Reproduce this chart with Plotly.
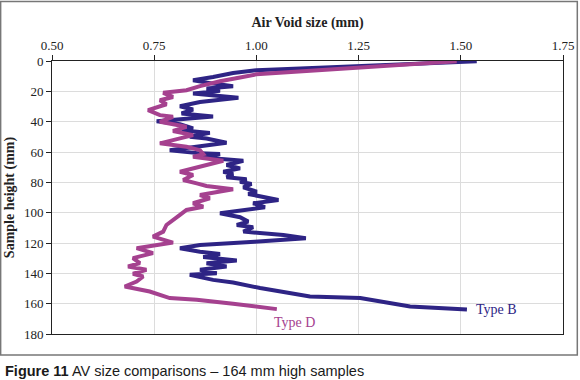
import plotly.graph_objects as go

# Type B series (air void size mm, sample height mm)
typeB_size = [1.539, 1.499, 1.343, 1.139, 1.107, 1.000, 0.943, 0.894, 0.845, 0.894, 0.943, 0.878,
              0.911, 0.845, 0.956, 0.862, 0.813, 0.845, 0.817, 0.894, 0.829, 0.756, 0.813, 0.845,
              0.817, 0.886, 0.837, 0.878, 0.927, 0.862, 0.788, 0.862, 0.911, 0.870, 0.943, 0.968,
              0.927, 0.960, 0.919, 0.943, 0.927, 0.976, 0.960, 0.988, 0.968, 1.001, 0.980, 1.017,
              1.054, 0.992, 1.021, 0.911, 0.960, 0.980, 0.952, 0.992, 0.968, 1.066, 1.121, 0.996,
              0.862, 0.813, 0.862, 0.911, 0.870, 0.952, 0.878, 0.927, 0.862, 0.903, 0.837, 0.894,
              0.943, 1.009, 1.058, 1.099, 1.131, 1.254, 1.278, 1.376, 1.515]
typeB_height = [0.2, 0.7, 2.6, 4.6, 5.0, 6.1, 7.9, 10.5, 12.7, 14.9, 16.6, 18.2,
                19.7, 21.4, 24.3, 27.0, 29.8, 32.0, 34.6, 36.6, 37.9, 39.7, 41.6, 44.5,
                45.6, 47.4, 50.0, 51.1, 53.9, 56.1, 58.8, 60.9, 61.4, 63.6, 65.3, 65.8,
                68.6, 70.8, 73.0, 74.5, 76.7, 78.0, 79.6, 81.1, 83.3, 86.2, 87.7, 89.9,
                91.6, 93.8, 96.4, 100.4, 103.0, 105.9, 108.1, 109.6, 112.5, 114.7, 116.8, 119.1,
                121.3, 123.4, 125.7, 127.2, 129.3, 131.6, 133.3, 135.5, 137.7, 139.9, 141.0, 144.3,
                146.1, 149.7, 152.0, 153.7, 155.3, 156.3, 157.4, 161.8, 163.8]

# Type D series
typeD_size = [1.490, 1.343, 1.139, 1.058, 1.000, 0.960, 0.911, 0.862, 0.829, 0.772, 0.796, 0.764,
              0.780, 0.735, 0.764, 0.796, 0.764, 0.829, 0.796, 0.845, 0.805, 0.764, 0.829, 0.862,
              0.870, 0.845, 0.919, 0.878, 0.845, 0.813, 0.845, 0.821, 0.854, 0.878, 0.943, 0.894,
              0.862, 0.886, 0.845, 0.870, 0.829, 0.813, 0.796, 0.780, 0.772, 0.747, 0.796, 0.707,
              0.747, 0.698, 0.715, 0.686, 0.731, 0.698, 0.723, 0.707, 0.678, 0.739, 0.788, 0.854,
              0.943, 1.050]
typeD_height = [0.2, 2.8, 6.1, 7.9, 8.8, 10.9, 13.4, 16.6, 19.3, 21.0, 23.7, 25.9,
                28.5, 32.4, 35.7, 36.8, 40.1, 43.4, 46.1, 48.9, 51.7, 54.3, 56.6, 58.8,
                61.4, 63.2, 65.8, 68.6, 70.8, 73.0, 75.2, 78.5, 80.7, 82.4, 84.6, 86.8,
                88.4, 90.5, 93.8, 96.1, 98.2, 101.5, 104.8, 108.1, 112.5, 115.8, 119.7, 123.4,
                126.7, 130.0, 133.3, 135.5, 137.7, 140.3, 142.1, 145.4, 148.7, 152.0, 156.3, 157.4,
                160.1, 163.6]

x_ticks = [0.50, 0.75, 1.00, 1.25, 1.50, 1.75]
y_ticks = [0, 20, 40, 60, 80, 100, 120, 140, 160, 180]

BLUE = "#2e2485"
MAGENTA = "#a5418f"
SERIF = "Liberation Serif, DejaVu Serif, serif"

fig = go.Figure()
fig.add_trace(go.Scatter(x=typeB_size, y=typeB_height, mode="lines",
                         line=dict(color=BLUE, width=4), name="Type B", showlegend=False))
fig.add_trace(go.Scatter(x=typeD_size, y=typeD_height, mode="lines",
                         line=dict(color=MAGENTA, width=4), name="Type D", showlegend=False))

fig.add_annotation(x=1.533, y=164, text="Type B", showarrow=False, xanchor="left", yanchor="middle",
                   font=dict(family=SERIF, size=14, color=BLUE))
fig.add_annotation(x=1.092, y=172.5, text="Type D", showarrow=False, xanchor="center", yanchor="middle",
                   font=dict(family=SERIF, size=14, color=MAGENTA))

# outer frame
fig.add_shape(type="rect", xref="paper", yref="paper", x0=-0.1005, x1=1.028, y0=-0.0768, y1=1.2184,
              line=dict(color="#777777", width=1.5), fillcolor="rgba(0,0,0,0)", layer="below")

fig.add_annotation(xref="paper", yref="paper", x=-0.0966, y=-0.1354, xanchor="left", yanchor="middle",
                   showarrow=False, text="<b>Figure 11</b> AV size comparisons – 164 mm high samples",
                   font=dict(family="Liberation Sans, Arial, sans-serif", size=14.5, color="#1a1a1a"))

fig.update_layout(
    width=580, height=380,
    margin=dict(l=52.3, r=17.3, t=60.7, b=46, autoexpand=False),
    paper_bgcolor="white", plot_bgcolor="white",
    font=dict(family=SERIF, size=13, color="#222222"),
    xaxis=dict(side="top", range=[0.5, 1.75], tickvals=x_ticks, tickformat=".2f",
               ticks="outside", ticklen=5, tickcolor="#222", showline=True, linecolor="#222",
               linewidth=1, mirror=True, showgrid=True, gridcolor="#dcdcdc", gridwidth=1,
               zeroline=False, automargin=False,
               title=dict(text="<b>Air Void size (mm)</b>", font=dict(family=SERIF, size=14), standoff=6)),
    yaxis=dict(range=[180, 0], tickvals=y_ticks, ticks="outside", ticklen=5, tickcolor="#222",
               showline=True, linecolor="#222", linewidth=1, mirror=True, showgrid=True,
               gridcolor="#dcdcdc", gridwidth=1, zeroline=False, automargin=False,
               title=dict(text="<b>Sample height (mm)</b>", font=dict(family=SERIF, size=14), standoff=6)),
)

fig.write_html("out.html", config={"displayModeBar": False},
               post_script="document.body.style.margin='0';document.body.style.padding='0';")
